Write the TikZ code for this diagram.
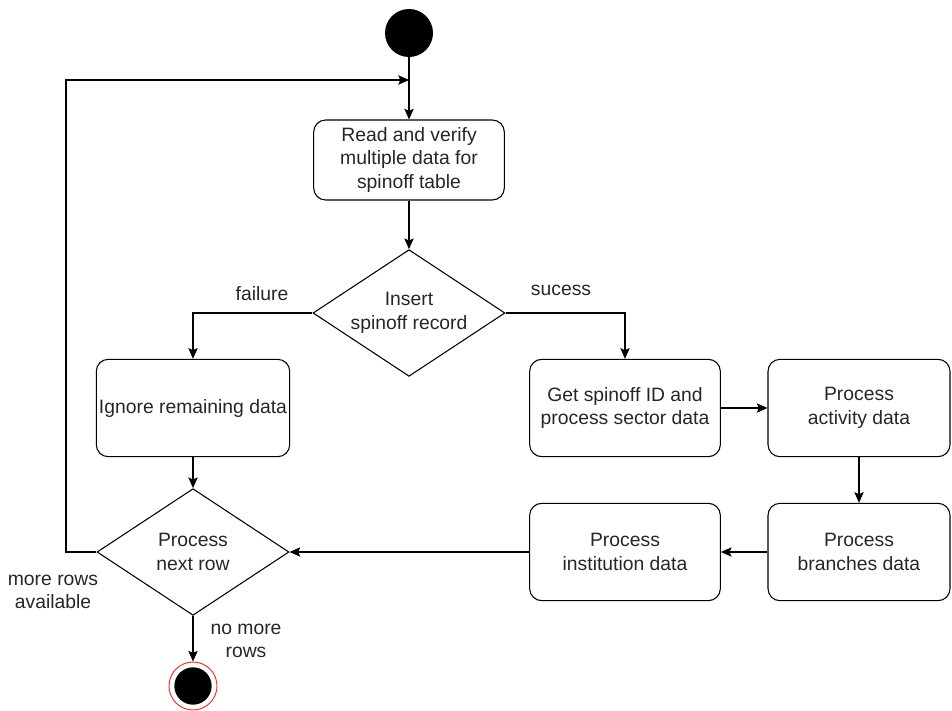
\documentclass[tikz,border=0pt]{standalone}
\usepackage{fontspec}
\setmainfont{Liberation Sans}
\usetikzlibrary{shapes.geometric,arrows.meta,positioning}
\tikzset
{
    activity/.style = {rectangle, rounded corners=9pt, draw=black, line width=0.8pt, align=center, minimum width=143pt, minimum height=73pt, inner sep=2pt},
    decision/.style = {diamond, draw=black, line width=0.8pt, minimum width=144pt, minimum height=95pt, inner sep=0pt},
    startnode/.style = {circle, fill=black, minimum size=36pt, inner sep=0pt},
    endring/.style = {circle, draw=red!85, fill=white, line width=0.7pt, minimum size=36pt, inner sep=0pt},
    enddot/.style = {circle, fill=black, minimum size=28pt, inner sep=0pt},
    guard/.style = {align=center},
    arrow/.style = {line width=0.8pt, -{Stealth[length=8pt, width=7pt, inset=1.5pt]}},
}

\begin{document}
\begin{tikzpicture}[x=0.75pt, y=-0.75pt, every node/.style={font=\fontsize{14.5}{17.5}\selectfont, text=black!85}]

   \useasboundingbox (0,0) rectangle (952,710);

   \node (start)       [startnode]                                 at (409, 33)  {};
   \node (read)        [activity, minimum height=60pt]             at (409, 160) {Read and verify\\multiple data for\\spinoff table};
   \node (insert)      [decision, label={[align=center]center:Insert\\spinoff record}] at (409, 313) {};
   \node (ignore)      [activity, minimum width=145pt]             at (193, 408) {Ignore remaining data};
   \node (getid)       [activity]                                  at (625, 408) {Get spinoff ID and\\process sector data};
   \node (activity)    [activity, minimum width=136.5pt]           at (859, 408) {Process\\activity data};
   \node (branches)    [activity, minimum width=136.5pt]           at (859, 552) {Process\\branches data};
   \node (institution) [activity]                                  at (625, 552) {Process\\institution data};
   \node (next)        [decision, label={[align=center]center:Process\\next row}] at (193, 552) {};
   \node (end)         [endring]                                   at (193, 686) {};
   \node (enddot)      [enddot]                                    at (end)      {};

   \coordinate (loopleft) at (66, 552);
   \coordinate (loopin)   at (409, 80);

   % guards
   \node (lfail)  [guard] at (262, 294) {failure};
   \node (lok)    [guard] at (561, 290) {sucess};
   \node (lmore)  [guard] at (53, 592)  {more rows\\available};
   \node (lnomore)[guard] at (246, 641) {no more\\rows};

   \path
      (start)       edge[arrow] (read)
      (read)        edge[arrow] (insert)
      (ignore)      edge[arrow] (next)
      (getid)       edge[arrow] (activity)
      (activity)    edge[arrow] (branches)
      (branches)    edge[arrow] (institution)
      (institution) edge[arrow] (next)
      (next)        edge[arrow] (end);

   \draw[arrow] (insert.west) -| (ignore.north);
   \draw[arrow] (insert.east) -| (getid.north);
   \draw[arrow] (next.west) -- (loopleft) |- (loopin);
\end{tikzpicture}
\end{document}
